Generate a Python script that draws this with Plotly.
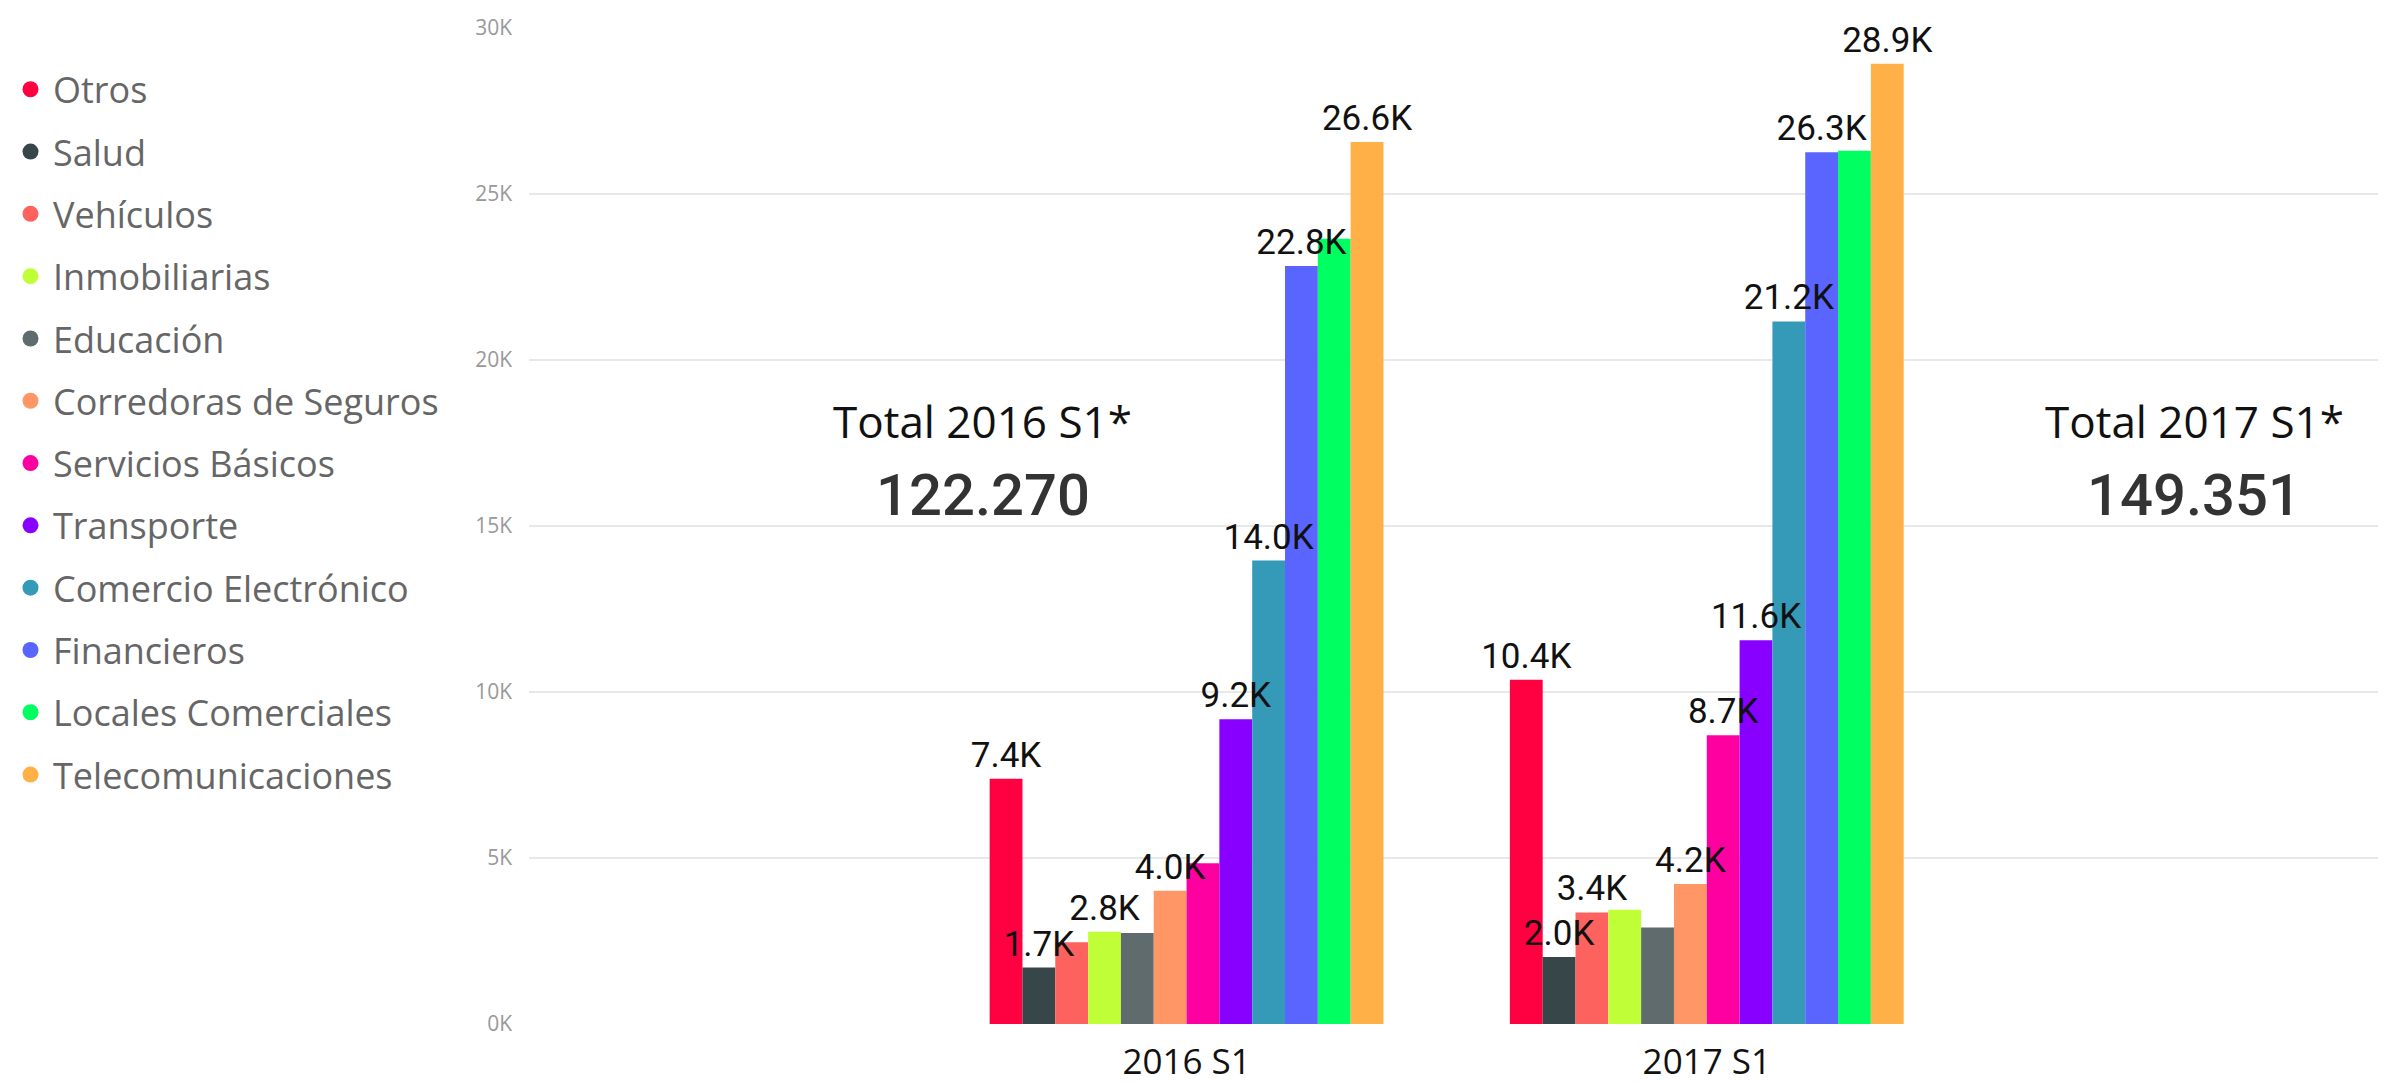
import plotly.graph_objects as go

# categories on the x axis
periods = ['2016 S1', '2017 S1']

# series names, in legend / bar order
series = [
    'Otros', 'Salud', 'Vehículos', 'Inmobiliarias', 'Educación',
    'Corredoras de Seguros', 'Servicios Básicos', 'Transporte',
    'Comercio Electrónico', 'Financieros', 'Locales Comerciales',
    'Telecomunicaciones',
]

# values per series (2016 S1, 2017 S1)
otros = [7390, 10370]
salud = [1700, 2020]
vehiculos = [2460, 3360]
inmobiliarias = [2780, 3440]
educacion = [2740, 2910]
corredoras = [4010, 4220]
servicios = [4840, 8700]
transporte = [9180, 11560]
comercio = [13960, 21160]
financieros = [22830, 26260]
locales = [23650, 26300]
telecom = [26570, 28920]

values = [otros, salud, vehiculos, inmobiliarias, educacion, corredoras,
          servicios, transporte, comercio, financieros, locales, telecom]

# which data labels are visible in the original (others hidden by overlap)
label_shown = [
    [True, True], [True, True], [False, True], [True, False],
    [False, False], [True, True], [False, True], [True, True],
    [True, True], [True, True], [False, False], [True, True],
]

colors = [
    '#FF0040', '#374649', '#FD625E', '#C0FF38', '#5F6B6D', '#FE9666',
    '#FF00A0', '#8800FF', '#3599B8', '#5A64FF', '#00FF60', '#FFB046',
]

# totals shown as cards
totals_titles = ['Total 2016 S1*', 'Total 2017 S1*']
totals_values = ['122.270', '149.351']

y_ticks = [0, 5000, 10000, 15000, 20000, 25000, 30000]
y_tick_labels = ['0K', '5K', '10K', '15K', '20K', '25K', '30K']

fig = go.Figure()

# actual bars
for name, vals, col in zip(series, values, colors):
    fig.add_trace(go.Bar(
        x=periods, y=vals, name=name, marker=dict(color=col, line=dict(width=0)),
        offsetgroup=name, legendgroup=name, showlegend=False,
        hoverinfo='x+y+name',
    ))

# transparent copies carrying the labels, drawn on top of every bar
for name, vals, shown in zip(series, values, label_shown):
    labels = [f"{v / 1000:.1f}K" if s else '' for v, s in zip(vals, shown)]
    fig.add_trace(go.Bar(
        x=periods, y=vals, name=name, marker=dict(color='rgba(0,0,0,0)', line=dict(width=0)),
        offsetgroup=name, legendgroup=name, showlegend=False,
        text=labels, textposition='outside', constraintext='none', cliponaxis=False,
        textfont=dict(family='Roboto', size=35, color='#111111'),
        hoverinfo='skip',
    ))

# legend entries with round markers
for name, col in zip(series, colors):
    fig.add_trace(go.Scatter(
        x=[None], y=[None], mode='markers', name=name, legendgroup=name,
        marker=dict(symbol='circle', size=16, color=col),
    ))

# total cards
for i, (title, total) in enumerate(zip(totals_titles, totals_values)):
    xc = [0.2433, 0.8928][i]
    fig.add_annotation(x=xc, y=0.6054, xref='paper', yref='paper', text=title,
                       showarrow=False, xanchor='center', yanchor='middle',
                       font=dict(family='Open Sans', size=44, color='#111111'))
    fig.add_annotation(x=xc, y=0.531, xref='paper', yref='paper', text=total,
                       showarrow=False, xanchor='center', yanchor='middle',
                       font=dict(family='Roboto', size=58, color='#333333', weight=500))

fig.update_layout(
    width=2386, height=1083,
    margin=dict(l=520, r=0, t=20, b=67),
    paper_bgcolor='white', plot_bgcolor='white',
    barmode='group', bargap=0.243, bargroupgap=0,
    showlegend=True,
    legend=dict(
        x=-0.2792, y=0.9685, xanchor='left', yanchor='top',
        font=dict(family='Open Sans', size=36, color='#666666'),
        tracegroupgap=12.5, itemsizing='trace', itemwidth=35, bgcolor='rgba(0,0,0,0)',
    ),
    xaxis=dict(
        range=[-1.264, 2.321], showgrid=False, zeroline=False, showline=False,
        tickfont=dict(family='Open Sans', size=35, color='#111111'), ticks='',
        ticklabelstandoff=14,
    ),
    yaxis=dict(
        range=[0, 30000], tickvals=y_ticks, ticktext=y_tick_labels,
        showgrid=True, gridcolor='#E8E8E8', gridwidth=1.5, zeroline=False, showline=False,
        tickfont=dict(family='Open Sans', size=21, color='#999999'), ticklabelstandoff=16,
    ),
)

fig.write_html("out.html")
